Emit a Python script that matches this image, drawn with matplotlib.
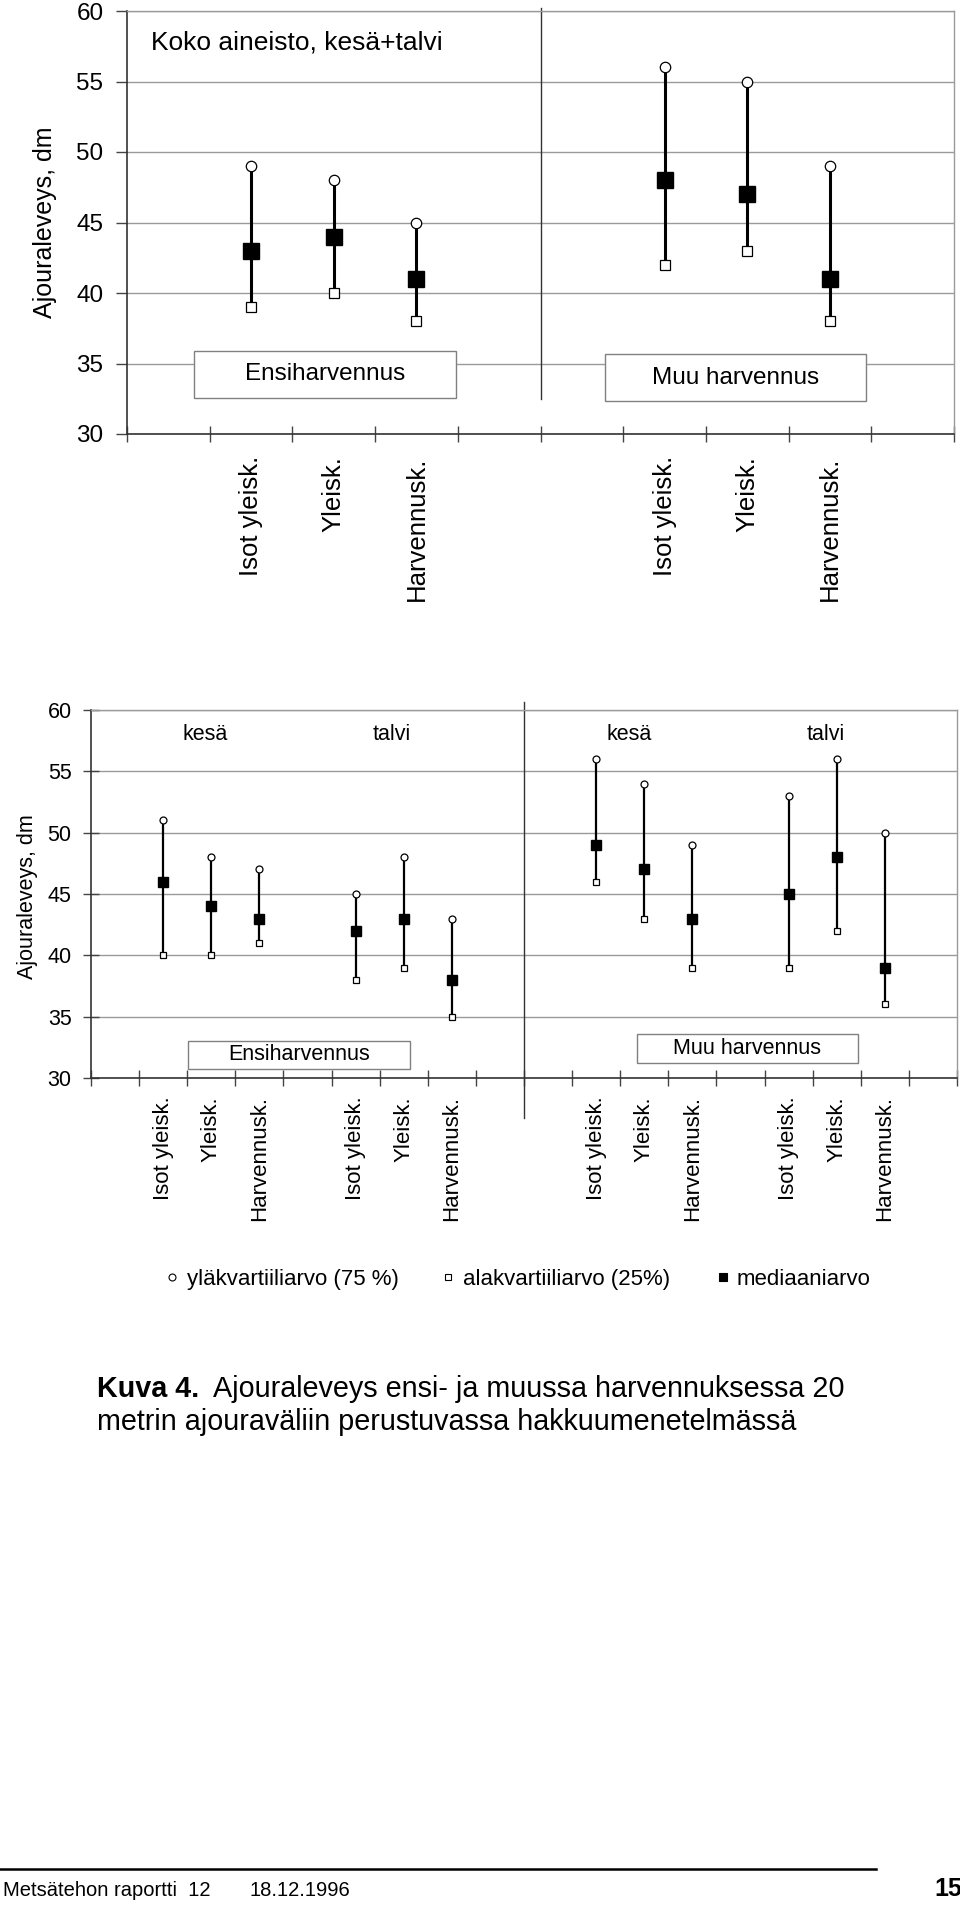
import numpy as np
import matplotlib
matplotlib.use("Agg")
import matplotlib.pyplot as plt
from matplotlib.patches import Rectangle
from matplotlib.lines import Line2D

plt.rcParams["font.family"] = ["Liberation Sans", "DejaVu Sans"]

nan = np.nan

# ── data ──────────────────────────────────────────────────────────────
# top panel: whole data set (summer + winter), 10 category slots
top_cats = ["", "Isot yleisk.", "Yleisk.", "Harvennusk.", "", "",
            "Isot yleisk.", "Yleisk.", "Harvennusk.", ""]
top_upper = [nan, 49, 48, 45, nan, nan, 56, 55, 49, nan]
top_median = [nan, 43, 44, 41, nan, nan, 48, 47, 41, nan]
top_lower = [nan, 39, 40, 38, nan, nan, 42, 43, 38, nan]

# bottom panel: summer / winter split, 18 category slots
bot_cats = ["", "Isot yleisk.", "Yleisk.", "Harvennusk.", "",
            "Isot yleisk.", "Yleisk.", "Harvennusk.", "", "",
            "Isot yleisk.", "Yleisk.", "Harvennusk.", "",
            "Isot yleisk.", "Yleisk.", "Harvennusk.", ""]
bot_upper = [nan, 51, 48, 47, nan, 45, 48, 43, nan, nan,
             56, 54, 49, nan, 53, 56, 50, nan]
bot_median = [nan, 46, 44, 43, nan, 42, 43, 38, nan, nan,
              49, 47, 43, nan, 45, 48, 39, nan]
bot_lower = [nan, 40, 40, 41, nan, 38, 39, 35, nan, nan,
             46, 43, 39, nan, 39, 42, 36, nan]

y_ticks = [30, 35, 40, 45, 50, 55, 60]

W, H = 960, 1905
fig = plt.figure(figsize=(W / 100, H / 100), dpi=100)
fig.patch.set_facecolor("white")


def fx(px):
    return px / W


def fy(py):
    return 1 - py / H


def panel(rect, cats, upper, median, lower, tick_fs, lab_fs, lab_pad,
          ms_med, ms_q, lw, ytick_dir, ytick_pad):
    ax = fig.add_axes(rect)
    n = len(cats)
    x = np.arange(n)
    up = np.array(upper, float)
    md = np.array(median, float)
    lo = np.array(lower, float)
    ok = ~np.isnan(md)

    ax.vlines(x[ok], lo[ok], up[ok], color="black", lw=lw, zorder=3)
    ax.plot(x[ok], up[ok], "o", ms=ms_q, mfc="white", mec="black",
            mew=0.9, zorder=4)
    ax.plot(x[ok], lo[ok], "s", ms=ms_q, mfc="white", mec="black",
            mew=0.9, zorder=4)
    ax.plot(x[ok], md[ok], "s", ms=ms_med, mfc="black", mec="black",
            zorder=5)

    ax.set_xlim(-0.5, n - 0.5)
    ax.set_ylim(30, 60)
    ax.set_yticks(y_ticks)
    ax.grid(axis="y", color="#9a9a9a", lw=1.0)
    ax.set_axisbelow(True)

    # slot boundaries as major ticks, labels on minor ticks
    ax.set_xticks(np.arange(n + 1) - 0.5)
    ax.set_xticklabels([])
    ax.set_xticks(x[ok], minor=True)
    ax.set_xticklabels([c for c, k in zip(cats, ok) if k], minor=True,
                       rotation=90, fontsize=lab_fs, va="top")
    ax.tick_params(axis="x", which="major", direction="inout", length=12,
                   width=1, color="#444")
    ax.tick_params(axis="x", which="minor", length=0, pad=lab_pad)
    ax.tick_params(axis="y", direction=ytick_dir, length=8 if ytick_dir == "out" else 12,
                   width=1, color="#444", labelsize=tick_fs, pad=ytick_pad)

    for s in ("left", "bottom"):
        ax.spines[s].set_color("#333")
        ax.spines[s].set_linewidth(1.2)
    for s in ("top", "right"):
        ax.spines[s].set_color("#9a9a9a")
        ax.spines[s].set_linewidth(1.0)
    return ax


# ── top panel ─────────────────────────────────────────────────────────
ax1 = panel([fx(127), fy(434), fx(954 - 127), (434 - 11) / H],
            top_cats, top_upper, top_median, top_lower,
            tick_fs=17.5, lab_fs=18.5, lab_pad=16,
            ms_med=11, ms_q=7.5, lw=2.2, ytick_dir="out", ytick_pad=9)
ax1.plot([4.5, 4.5], [60.2, 32.5], color="#333", lw=1, clip_on=False, zorder=2)
ax1.text(-0.21, 57.8, "Koko aineisto, kesä+talvi", fontsize=19,
         ha="left", va="center")
for x0, x1, y0, y1, txt in [(0.31, 3.48, 32.55, 35.9, "Ensiharvennus"),
                            (5.28, 8.44, 32.34, 35.67, "Muu harvennus")]:
    ax1.add_patch(Rectangle((x0, y0), x1 - x0, y1 - y0, facecolor="white",
                            edgecolor="#808080", lw=1, zorder=6))
    ax1.text((x0 + x1) / 2, (y0 + y1) / 2, txt, fontsize=17.5,
             ha="center", va="center", zorder=7)
fig.text(fx(45), fy(222), "Ajouraleveys, dm", rotation=90, fontsize=18,
         ha="center", va="center")

# ── bottom panel ──────────────────────────────────────────────────────
ax2 = panel([fx(91), fy(1078), fx(957 - 91), (1078 - 710) / H],
            bot_cats, bot_upper, bot_median, bot_lower,
            tick_fs=15.5, lab_fs=16, lab_pad=13,
            ms_med=7.5, ms_q=5, lw=1.6, ytick_dir="inout", ytick_pad=8)
ax2.plot([8.5, 8.5], [60.65, 26.7], color="#333", lw=1, clip_on=False, zorder=2)
for xt, txt in [(1.87, "kesä"), (5.75, "talvi"), (10.68, "kesä"), (14.78, "talvi")]:
    ax2.text(xt, 58.0, txt, fontsize=15.5, ha="center", va="center")
for x0, x1, y0, y1, txt in [(1.51, 6.14, 30.73, 33.05, "Ensiharvennus"),
                            (10.84, 15.45, 31.19, 33.58, "Muu harvennus")]:
    ax2.add_patch(Rectangle((x0, y0), x1 - x0, y1 - y0, facecolor="white",
                            edgecolor="#808080", lw=1, zorder=6))
    ax2.text((x0 + x1) / 2, (y0 + y1) / 2, txt, fontsize=15.5,
             ha="center", va="center", zorder=7)
fig.text(fx(28), fy(897), "Ajouraleveys, dm", rotation=90, fontsize=15.5,
         ha="center", va="center")

# ── legend ────────────────────────────────────────────────────────────
ly = fy(1277)
for mx, tx, mk, fc, ms, txt in [
        (172, 187, "o", "white", 5, "yläkvartiiliarvo (75 %)"),
        (448, 463, "s", "white", 5, "alakvartiiliarvo (25%)"),
        (723, 737, "s", "black", 6, "mediaaniarvo")]:
    fig.add_artist(Line2D([fx(mx)], [ly], marker=mk, ms=ms, mfc=fc,
                          mec="black", mew=0.8, transform=fig.transFigure))
    fig.text(fx(tx), ly, txt, fontsize=16, ha="left", va="center_baseline")

# ── caption ───────────────────────────────────────────────────────────
fig.text(fx(97), fy(1389), "Kuva 4.", fontsize=20.7, fontweight="bold",
         ha="left", va="center")
fig.text(fx(213), fy(1389), "Ajouraleveys ensi- ja muussa harvennuksessa 20",
         fontsize=20.7, ha="left", va="center")
fig.text(fx(97), fy(1422), "metrin ajouraväliin perustuvassa hakkuumenetelmässä",
         fontsize=20.7, ha="left", va="center")

# ── footer ────────────────────────────────────────────────────────────
fig.add_artist(Line2D([0, fx(876)], [fy(1869), fy(1869)], color="black",
                      lw=1.8, transform=fig.transFigure))
fig.text(fx(3), fy(1890), "Metsätehon raportti  12", fontsize=14.5,
         ha="left", va="center")
fig.text(fx(249), fy(1890), "18.12.1996", fontsize=14.5, ha="left", va="center")
fig.text(fx(962), fy(1889), "15", fontsize=18, fontweight="bold",
         ha="right", va="center")

fig.savefig("out.png", dpi=100, facecolor="white")
